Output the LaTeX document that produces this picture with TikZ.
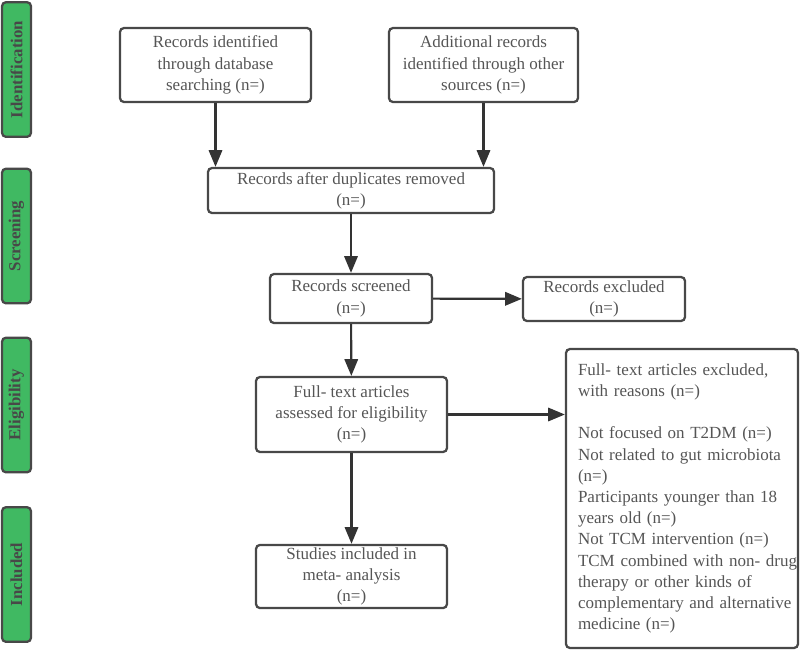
\documentclass[tikz,border=0pt]{standalone}
\usepackage{fontspec}
\setmainfont{Liberation Serif}
\usetikzlibrary{arrows.meta}

\definecolor{boxline}{RGB}{72,72,72}
\definecolor{boxtext}{RGB}{85,85,85}
\definecolor{stagegreen}{RGB}{64,185,98}

\tikzset{
	box/.style={draw=boxline, line width=1.7pt, rounded corners=3pt, align=center,
		text=boxtext, inner sep=2pt, font=\fontsize{12.75}{15.9}\selectfont},
	stage/.style={draw=boxline, fill=stagegreen, line width=1.7pt, rounded corners=3pt,
		rotate=90, minimum width=101pt, minimum height=21.75pt, inner sep=0pt,
		text=boxline, font=\fontsize{12.6}{15}\selectfont\bfseries},
	flow/.style={draw=black!80, line width=1.6pt, -{Triangle[length=12.5pt,width=10pt]}}
}

\begin{document}
\begin{tikzpicture}[x=0.75pt,y=-0.75pt]
		\useasboundingbox (0,0) rectangle (800,651);

		\node[stage] at (16.5,69.5) (s1) {Identification};
		\node[stage] at (16.5,236) (s2) {Screening};
		\node[stage] at (16.5,405) (s3) {Eligibility};
		\node[stage] at (16.5,574.5) (s4) {Included};

		\node[box, minimum width=143.25pt, minimum height=55.5pt] at (215.5,65) (a)
			{Records identified\\through database\\searching (n=)};
		\node[box, minimum width=141.75pt, minimum height=55.5pt] at (483.5,65) (b)
			{Additional records\\identified through other\\sources (n=)};
		\node[box, minimum width=214.5pt, minimum height=33.75pt] at (351,190.5) (c)
			{Records after duplicates removed\\(n=)};
		\node[box, minimum width=121.5pt, minimum height=36.75pt] at (351,298.5) (d)
			{Records screened\\(n=)};
		\node[box, minimum width=121.5pt, minimum height=33pt] at (604,299) (e)
			{Records excluded\\(n=)};
		\node[box, minimum width=143.25pt, minimum height=56.25pt] at (351.5,414.5) (f)
			{Full- text articles\\assessed for eligibility\\(n=)};
		\node[box, minimum width=143.25pt, minimum height=47.25pt] at (351.5,576.5) (g)
			{Studies included in\\meta- analysis\\(n=)};
		\node[box, align=left, text width=156pt, inner xsep=9pt, inner ysep=6pt,
			minimum width=174pt, minimum height=224.25pt] at (682,498.5) (h)
			{Full- text articles excluded,\\with reasons (n=)\\[15.9pt]
			Not focused on T2DM (n=)\\Not related to gut microbiota\\(n=)\\
			Participants younger than 18\\years old (n=)\\Not TCM intervention (n=)\\
			\mbox{TCM combined with non- drug}\\therapy or other kinds of\\
			\mbox{complementary and alternative}\\medicine (n=)\\[6pt]};

		\draw[flow] (a.south) -- (a.south |- c.north);
		\draw[flow] (b.south) -- (b.south |- c.north);
		\draw[flow] (c) -- (d);
		\draw[flow] (d) -- (e);
		\draw[flow] (d) -- (f);
		\draw[flow] (f) -- (g);
		\draw[flow] (f.east) -- (f.east -| h.west);
	\end{tikzpicture}
\end{document}
